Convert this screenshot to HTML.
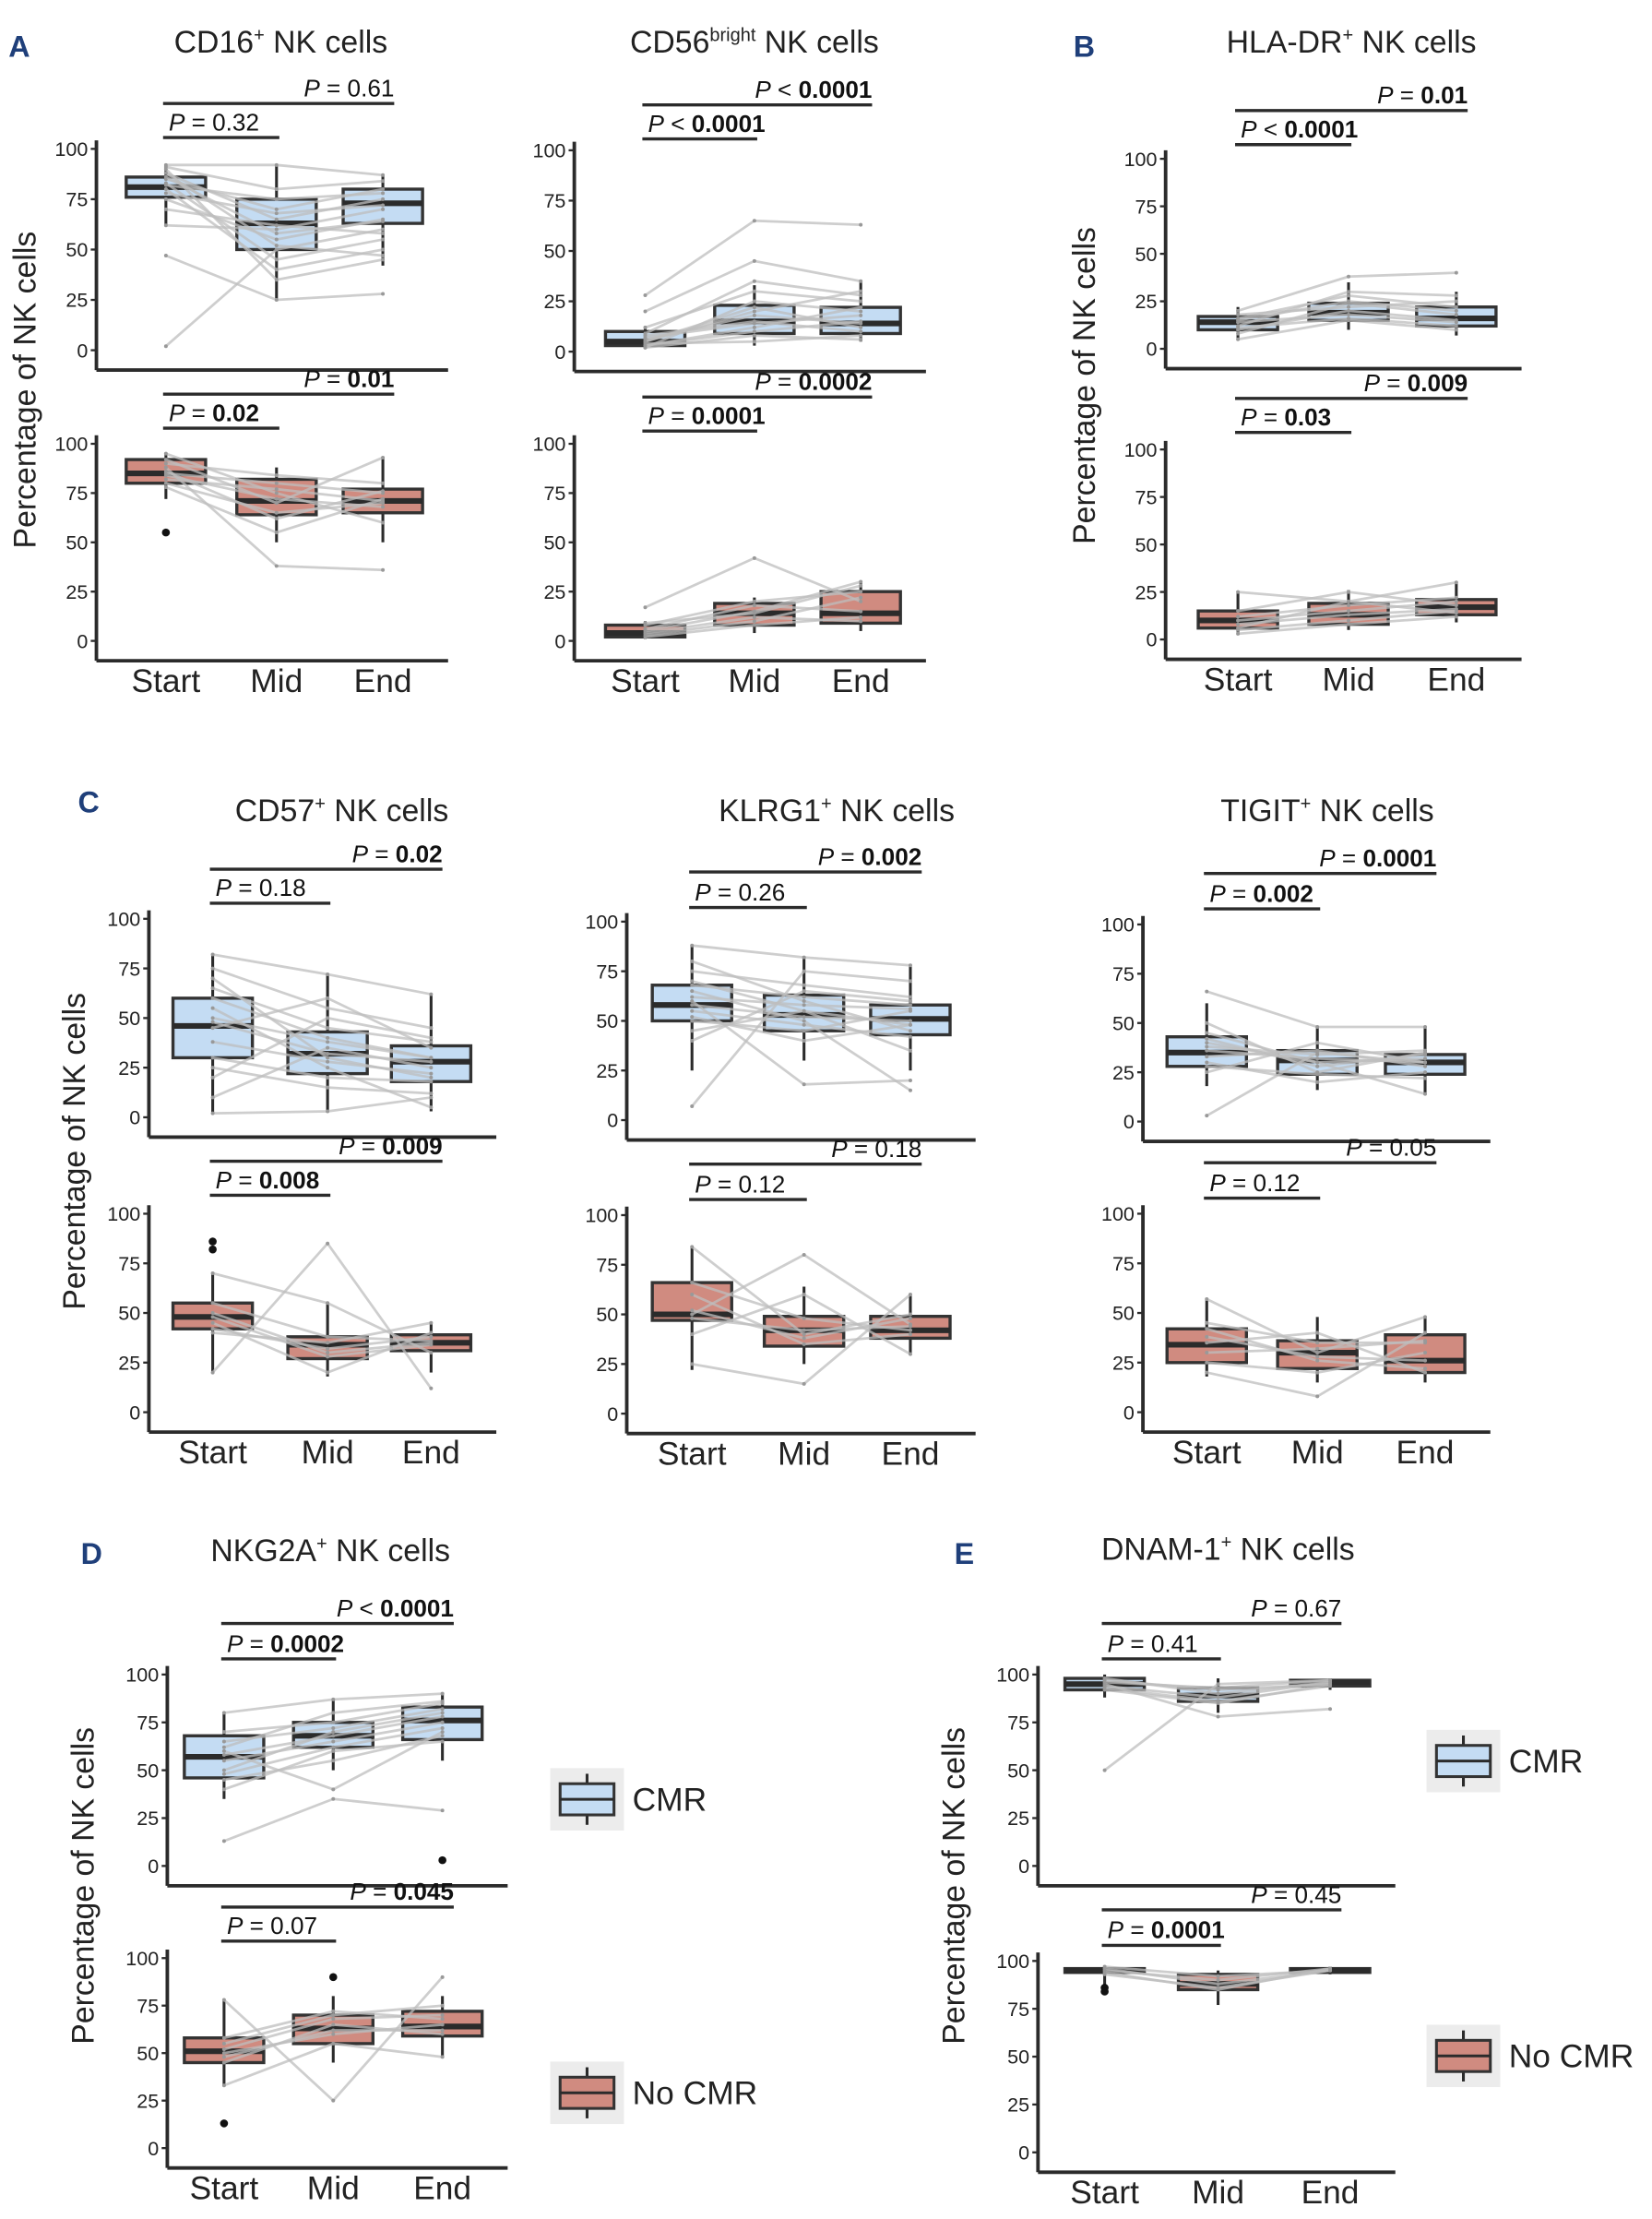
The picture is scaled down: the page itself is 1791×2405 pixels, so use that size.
<!DOCTYPE html>
<html><head><meta charset="utf-8"><style>
html,body{margin:0;padding:0;background:#fff}
svg{display:block;font-family:"Liberation Sans",Arial,sans-serif}
</style></head><body>
<svg id="fig" xmlns="http://www.w3.org/2000/svg" width="1791" height="2405" viewBox="0 0 1165 1565" preserveAspectRatio="none"></svg>
<script>
// ---- data (box stats: [whiskerLow, q1, median, q3, whiskerHigh]) ----
const categories = ["Start","Mid","End"];
const cd16Top = [[62,76,81,86,92],[25,50,63,75,92],[42,63,73,80,87]];
const cd16Bot = [[72,80,85,92,95],[50,64,71,82,88],[50,65,71,77,93]];
const cd56Top = [[2,3,5,10,12],[3,9,15,23,33],[5,9,14,22,35]];
const cd56Bot = [[1,2,4,8,10],[4,8,14,19,22],[5,9,14,25,30]];
const hlaTop = [[5,10,14,17,22],[10,15,19,24,35],[7,12,16,22,30]];
const hlaBot = [[3,6,10,15,25],[5,8,13,19,26],[9,13,17,21,30]];
const cd57Top = [[2,30,46,60,82],[3,22,32,43,72],[3,18,28,36,62]];
const cd57Bot = [[20,42,48,55,70],[18,27,34,38,55],[20,31,35,39,45]];
const klrgTop = [[25,50,58,68,88],[30,45,53,63,82],[25,43,51,58,78]];
const klrgBot = [[22,47,50,66,84],[25,34,42,49,64],[30,38,42,49,60]];
const tigitTop = [[18,28,35,43,60],[16,24,31,36,48],[14,24,30,34,48]];
const tigitBot = [[18,25,34,42,57],[15,22,30,36,48],[15,20,26,39,48]];
const nkgTop = [[35,46,57,68,80],[50,62,68,75,87],[55,66,76,83,90]];
const nkgBot = [[33,45,51,58,78],[45,55,63,70,80],[48,59,64,72,80]];
const dnamTop = [[88,92,95,98,100],[80,86,89,93,98],[92,94,96,97,98]];
const dnamBot = [[86,94,95,96,97],[77,85,88,93,95],[93,94,95,96,97]];
// outliers: [categoryIndex, value]
const nkgTopOut = [[2,3]];
const nkgBotOut = [[0,13],[1,90]];
const cd57BotOut = [[0,82],[0,86]];
const cd16BotOut = [[0,55]];
const dnamBotOut = [[0,86],[0,84]];
// paired subject lines [start, mid, end]
const cd16TopLines = [[2,50,60],[47,25,28],[92,92,87],[88,65,75],[80,40,50],[85,70,80],[75,55,65],[90,35,45],[62,60,70],[83,45,55],[78,68,72],[86,58,64],[82,75,78],[91,80,84],[70,62,58],[88,52,47]];
const cd16BotLines = [[92,70,93],[88,38,36],[85,80,75],[80,65,70],[95,75,60],[78,55,72],[90,84,80],[84,72,68],[86,62,76],[82,77,71]];
const cd56TopLines = [[28,65,63],[20,45,35],[5,20,30],[3,10,15],[12,30,25],[8,15,10],[4,5,8],[2,25,20],[6,18,14],[3,12,22],[9,35,28],[5,22,12],[7,14,18],[2,8,6]];
const cd56BotLines = [[17,42,20],[5,15,30],[2,8,12],[8,20,25],[4,12,10],[6,18,15],[3,10,22],[9,14,28]];
const hlaTopLines = [[20,38,40],[10,20,15],[15,25,20],[5,15,10],[12,30,28],[18,22,25],[14,18,14],[8,24,18],[16,28,22],[11,16,12]];
const hlaBotLines = [[25,20,30],[5,10,15],[10,15,20],[15,25,18],[3,8,12],[12,18,22],[8,13,16],[6,20,14]];
const cd57TopLines = [[82,72,62],[60,40,30],[2,3,10],[30,20,18],[45,60,35],[70,30,20],[20,50,40],[55,25,5],[10,35,25],[65,45,38],[50,38,30],[38,28,22],[75,55,45],[25,15,12],[48,32,28]];
const cd57BotLines = [[20,85,12],[50,30,35],[45,20,40],[70,55,30],[40,35,45],[55,38,36],[48,28,34],[42,32,38]];
const klrgTopLines = [[7,75,70],[88,82,78],[60,18,20],[50,45,55],[70,55,48],[40,65,60],[65,50,15],[80,60,45],[58,52,50],[62,58,56],[55,48,42],[75,68,62],[52,40,48],[68,62,58],[45,55,35]];
const klrgBotLines = [[84,40,50],[50,80,45],[25,15,60],[60,35,40],[40,60,30],[48,42,44],[66,48,42],[52,38,48]];
const tigitTopLines = [[66,48,48],[3,35,30],[40,30,14],[30,20,25],[50,25,35],[25,40,30],[36,32,30],[42,28,34],[33,36,28],[45,30,32],[28,24,22],[38,34,36]];
const tigitBotLines = [[57,30,48],[20,8,40],[35,40,20],[25,20,30],[45,35,35],[38,28,26],[30,32,36],[42,26,22]];
const nkgTopLines = [[13,35,29],[80,87,90],[50,70,80],[60,40,70],[40,60,65],[70,75,85],[55,65,75],[65,72,82],[58,68,78],[48,62,72],[62,80,86],[45,55,68]];
const nkgBotLines = [[78,25,90],[45,65,60],[55,70,75],[33,55,48],[50,60,65],[52,68,70],[48,62,62],[58,72,68]];
const dnamTopLines = [[50,95,97],[95,78,82],[98,90,96],[92,85,95],[96,93,97],[94,88,96],[97,92,95],[93,86,94]];
const dnamBotLines = [[96,88,95],[94,85,96],[97,92,95],[95,90,96],[93,86,95]];

const svg = document.getElementById('fig');
const NS = "http://www.w3.org/2000/svg";
function el(tag, attrs, parent, txt){
  const e = document.createElementNS(NS, tag);
  for (const k in attrs) e.setAttribute(k, attrs[k]);
  if (txt !== undefined) e.textContent = txt;
  (parent||svg).appendChild(e);
  return e;
}
const BLUE="#c4dcf3", RED="#d08b80", DARK="#2b2b2b";

function plot(cfg){
  const g = el('g',{});
  
  
  const y = v => cfg.y0 + (cfg.y100 - cfg.y0) * v / 100;
  const x = i => cfg.cx[i];
  const bw = cfg.bw || 56;
  const ax = el('line',{x1:cfg.ax,y1:cfg.y100-6,x2:cfg.ax,y2:cfg.y0+14,stroke:DARK,'stroke-width':2.5},g);
  
  
  const bx = el('line',{x1:cfg.ax,y1:cfg.y0+14,x2:cfg.cx[2]+46,y2:cfg.y0+14,stroke:DARK,'stroke-width':2.5},g);
  
  
  [0,25,50,75,100].forEach(t=>{
    el('line',{x1:cfg.ax-4,x2:cfg.ax,y1:y(t),y2:y(t),stroke:DARK,'stroke-width':1.5},g);
    const tl = el('text',{x:cfg.ax-6,y:y(t)+5,'text-anchor':'end','font-size':14,fill:'#222'},g,String(t));
    
    
  });
  cfg.stats.forEach((s,i)=>{
    el('line',{x1:x(i),x2:x(i),y1:y(s[0]),y2:y(s[4]),stroke:DARK,'stroke-width':2},g);
    const r = el('rect',{x:x(i)-bw/2,y:y(s[3]),width:bw,height:Math.max(1,y(s[1])-y(s[3])),fill:cfg.fill,stroke:'#333','stroke-width':2.2},g);
    
    
    el('line',{x1:x(i)-bw/2,x2:x(i)+bw/2,y1:y(s[2]),y2:y(s[2]),stroke:DARK,'stroke-width':4},g);
  });
  cfg.lines.forEach(l=>{
    const p = el('polyline',{points:l.map((v,i)=>x(i)+','+y(v)).join(' '),fill:'none',stroke:'#bdbdbd','stroke-width':1.8,opacity:0.75},g);
    
    
    l.forEach((v,i)=>el('circle',{cx:x(i),cy:y(v),r:1.3,fill:'#999'},g));
  });
  (cfg.out||[]).forEach(o=>{
    const c = el('circle',{cx:x(o[0]),cy:y(o[1]),r:2.8,fill:'#111'},g);
    
    
  });
  const [ps, pl] = cfg.p;
  const xs = x(0)-2, xm = x(1)+2, xe = x(2)+8;
  el('line',{x1:xs,x2:xm,y1:ps[2],y2:ps[2],stroke:DARK,'stroke-width':2.2},g);
  el('line',{x1:xs,x2:xe,y1:pl[2],y2:pl[2],stroke:DARK,'stroke-width':2.2},g);
  function ptxt(px, py, anchor, val, bold){
    const t = el('text',{x:px,y:py,'text-anchor':anchor,'font-size':17,fill:'#111'},g);
    
    
    el('tspan',{'font-style':'italic'},t,'P');
    const isLt = val.startsWith('<');
    el('tspan',{},t,isLt ? ' < ' : ' = ');
    el('tspan',{'font-weight':bold?'bold':'normal'},t,isLt ? val.slice(2) : val);
  }
  ptxt(xs+4, ps[2]-5, 'start', ps[0], ps[1]);
  ptxt(xe, pl[2]-5, 'end', pl[0], pl[1]);
  if (cfg.xlabels){
    cfg.cx.forEach((c,i)=>{
      const t = el('text',{x:c,y:cfg.y0+36,'text-anchor':'middle','font-size':23,fill:'#222'},g,categories[i]);
      
      
    });
  }
}

function text(x,y,s,size,opts,name){
  const a = Object.assign({x:x,y:y,'font-size':size,fill:'#222'},opts||{});
  const t = el('text',a,svg,s);
  
  
  return t;
}
function title(x,y,main,sup,rest,name){
  const t = text(x,y,'',22,{'text-anchor':'middle'},name);
  el('tspan',{},t,main);
  el('tspan',{'font-size':13,dy:-8},t,sup);
  el('tspan',{dy:8},t,rest);
}
function ylab(x,y,name){
  text(x,y,'Percentage of NK cells',22,{'text-anchor':'middle',transform:`rotate(-90 ${x} ${y})`},name);
}
function panelLetter(x,y,l){
  text(x,y,l,21,{'font-weight':'bold',fill:'#1f3f7a'},'panel-label-'+l.toLowerCase());
}

panelLetter(6,40,'A');
title(198,37,'CD16','+',' NK cells','title-cd16');
ylab(25,275,'y-axis-title-a');
plot({name:'cd16-cmr',ax:68,cx:[117,195,270],y100:105,y0:247,stats:cd16Top,fill:BLUE,lines:cd16TopLines,p:[['0.32',false,97],['0.61',false,73]]});
plot({name:'cd16-nocmr',ax:68,cx:[117,195,270],y100:313,y0:452,stats:cd16Bot,fill:RED,lines:cd16BotLines,out:cd16BotOut,p:[['0.02',true,302],['0.01',true,278]],xlabels:true});
title(532,37,'CD56','bright',' NK cells','title-cd56');
plot({name:'cd56-cmr',ax:405,cx:[455,532,607],y100:106,y0:248,stats:cd56Top,fill:BLUE,lines:cd56TopLines,p:[['< 0.0001',true,98],['< 0.0001',true,74]]});
plot({name:'cd56-nocmr',ax:405,cx:[455,532,607],y100:313,y0:452,stats:cd56Bot,fill:RED,lines:cd56BotLines,p:[['0.0001',true,304],['0.0002',true,280]],xlabels:true});
panelLetter(757,40,'B');
title(953,37,'HLA-DR','+',' NK cells','title-hla-dr');
ylab(772,272,'y-axis-title-b');
plot({name:'hla-cmr',ax:822,cx:[873,951,1027],y100:112,y0:246,stats:hlaTop,fill:BLUE,lines:hlaTopLines,p:[['< 0.0001',true,102],['0.01',true,78]]});
plot({name:'hla-nocmr',ax:822,cx:[873,951,1027],y100:317,y0:451,stats:hlaBot,fill:RED,lines:hlaBotLines,p:[['0.03',true,305],['0.009',true,281]],xlabels:true});
panelLetter(55,573,'C');
ylab(60,812,'y-axis-title-c');
title(241,579,'CD57','+',' NK cells','title-cd57');
plot({name:'cd57-cmr',ax:105,cx:[150,231,304],y100:648,y0:788,stats:cd57Top,fill:BLUE,lines:cd57TopLines,p:[['0.18',false,637],['0.02',true,613]]});
plot({name:'cd57-nocmr',ax:105,cx:[150,231,304],y100:856,y0:996,stats:cd57Bot,fill:RED,lines:cd57BotLines,out:cd57BotOut,p:[['0.008',true,843],['0.009',true,819]],xlabels:true});
title(590,579,'KLRG1','+',' NK cells','title-klrg1');
plot({name:'klrg1-cmr',ax:442,cx:[488,567,642],y100:650,y0:790,stats:klrgTop,fill:BLUE,lines:klrgTopLines,p:[['0.26',false,640],['0.002',true,615]]});
plot({name:'klrg1-nocmr',ax:442,cx:[488,567,642],y100:857,y0:997,stats:klrgBot,fill:RED,lines:klrgBotLines,p:[['0.12',false,846],['0.18',false,821]],xlabels:true});
title(936,579,'TIGIT','+',' NK cells','title-tigit');
plot({name:'tigit-cmr',ax:806,cx:[851,929,1005],y100:652,y0:791,stats:tigitTop,fill:BLUE,lines:tigitTopLines,p:[['0.002',true,641],['0.0001',true,616]]});
plot({name:'tigit-nocmr',ax:806,cx:[851,929,1005],y100:856,y0:996,stats:tigitBot,fill:RED,lines:tigitBotLines,p:[['0.12',false,845],['0.05',false,820]],xlabels:true});
panelLetter(57,1103,'D');
title(233,1101,'NKG2A','+',' NK cells','title-nkg2a');
ylab(66,1330,'y-axis-title-d');
plot({name:'nkg2a-cmr',ax:118,cx:[158,235,312],y100:1181,y0:1316,stats:nkgTop,fill:BLUE,lines:nkgTopLines,out:nkgTopOut,p:[['0.0002',true,1170],['< 0.0001',true,1145]]});
plot({name:'nkg2a-nocmr',ax:118,cx:[158,235,312],y100:1381,y0:1515,stats:nkgBot,fill:RED,lines:nkgBotLines,out:nkgBotOut,p:[['0.07',false,1369],['0.045',true,1345]],xlabels:true});
panelLetter(673,1103,'E');
title(866,1100,'DNAM-1','+',' NK cells','title-dnam1');
ylab(680,1330,'y-axis-title-e');
plot({name:'dnam1-cmr',ax:732,cx:[779,859,938],y100:1181,y0:1316,stats:dnamTop,fill:BLUE,lines:dnamTopLines,p:[['0.41',false,1170],['0.67',false,1145]]});
plot({name:'dnam1-nocmr',ax:732,cx:[779,859,938],y100:1383,y0:1518,stats:dnamBot,fill:RED,lines:dnamBotLines,out:dnamBotOut,p:[['0.0001',true,1372],['0.45',false,1347]],xlabels:true});

function legend(x,y,fill,label,name){
  const g = el('g',{});
  
  
  el('rect',{x:x,y:y,width:52,height:44,fill:'#ececec'},g);
  el('line',{x1:x+26,x2:x+26,y1:y+4,y2:y+40,stroke:DARK,'stroke-width':2},g);
  el('rect',{x:x+7,y:y+11,width:38,height:22,fill:fill,stroke:'#333','stroke-width':2},g);
  el('line',{x1:x+7,x2:x+45,y1:y+22,y2:y+22,stroke:DARK,'stroke-width':2},g);
  const t = el('text',{x:x+58,y:y+30,'font-size':23,fill:'#222'},g,label);
  
  
}
legend(388,1247,BLUE,'CMR','legend-cmr-d');
legend(388,1454,RED,'No CMR','legend-nocmr-d');
legend(1006,1220,BLUE,'CMR','legend-cmr-e');
legend(1006,1428,RED,'No CMR','legend-nocmr-e');
</script>
</body></html>
